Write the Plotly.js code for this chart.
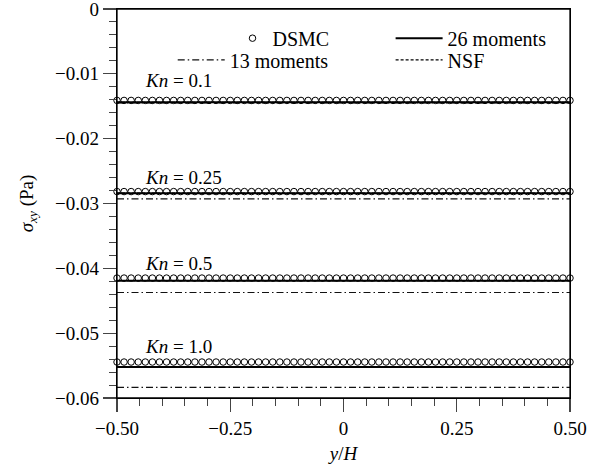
<!DOCTYPE html>
<html>
<head>
<meta charset="utf-8">
<script src="https://cdn.plot.ly/plotly-3.0.1.min.js"></script>
<style>html,body{margin:0;padding:0;background:#fff;}#chart{width:589px;height:474px;}</style>
</head>
<body>
<div id="chart"></div>
<script>
// DSMC sample positions y/H
var dsmcX = [-0.5, -0.4844, -0.4688, -0.4531, -0.4375, -0.4219, -0.4063, -0.3906, -0.375, -0.3594,
  -0.3438, -0.3281, -0.3125, -0.2969, -0.2813, -0.2656, -0.25, -0.2344, -0.2188, -0.2031,
  -0.1875, -0.1719, -0.1563, -0.1406, -0.125, -0.1094, -0.0938, -0.0781, -0.0625, -0.0469,
  -0.0313, -0.0156, 0, 0.0156, 0.0313, 0.0469, 0.0625, 0.0781, 0.0938, 0.1094,
  0.125, 0.1406, 0.1563, 0.1719, 0.1875, 0.2031, 0.2188, 0.2344, 0.25, 0.2656,
  0.2813, 0.2969, 0.3125, 0.3281, 0.3438, 0.3594, 0.375, 0.3906, 0.4063, 0.4219,
  0.4375, 0.4531, 0.4688, 0.4844, 0.5];
var lineX = [-0.5, 0.5];
var knLabels = ['0.1', '0.25', '0.5', '1.0'];
var dsmcLevel = [-0.0141, -0.02816, -0.0415, -0.05445];
var mom26Level = [-0.0144, -0.0284, -0.0419, -0.05523];
var mom13Level = [-0.0145, -0.0293, -0.04373, -0.05837];
var nsfLevel = [-0.0144, -0.0284, -0.0419, -0.05523];
var labelY = [-0.0111, -0.0260, -0.0393, -0.0521];
var xTickVals = [-0.5, -0.25, 0, 0.25, 0.5];
var xTickText = ['\u22120.50', '\u22120.25', '0', '0.25', '0.50'];

var FONT = "'Liberation Serif', 'DejaVu Serif', serif";
var traces = [];
for (var i = 0; i < knLabels.length; i++) {
  var first = (i === 0);
  traces.push({x: lineX, y: [nsfLevel[i], nsfLevel[i]], mode: 'lines', name: 'NSF',
    line: {color: '#000', width: 1.2, dash: '3px,2px'}, showlegend: first, legend: 'legend4', cliponaxis: false});
  traces.push({x: lineX, y: [mom13Level[i], mom13Level[i]], mode: 'lines', name: '13 moments',
    line: {color: '#111', width: 1.2, dash: '7px,3px,1.5px,3px'}, showlegend: first, legend: 'legend3', cliponaxis: false});
  traces.push({x: lineX, y: [mom26Level[i], mom26Level[i]], mode: 'lines', name: '26 moments',
    line: {color: '#000', width: 2}, showlegend: first, legend: 'legend2', cliponaxis: false});
  traces.push({x: dsmcX, y: dsmcX.map(function(){return dsmcLevel[i];}), mode: 'markers', name: 'DSMC',
    marker: {symbol: 'circle-open', size: 6.5, color: '#000', line: {width: 1, color: '#000'}},
    showlegend: first, legend: 'legend', cliponaxis: false});
}

var annotations = knLabels.map(function(k, i) {
  return {x: -0.443, y: labelY[i], xref: 'x', yref: 'y', xanchor: 'left', yanchor: 'middle',
    text: '<i>Kn</i> = ' + k, showarrow: false, font: {family: FONT, size: 19, color: '#000'}};
});

function leg(x, y, w) {
  return {x: x, y: y, xref: 'paper', yref: 'paper', xanchor: 'left', yanchor: 'middle',
    bgcolor: 'rgba(0,0,0,0)', borderwidth: 0, itemwidth: w, font: {family: FONT, size: 20, color: '#000'}};
}

var layout = {
  width: 589, height: 474,
  margin: {l: 117, r: 19, t: 9, b: 76},
  paper_bgcolor: '#fff', plot_bgcolor: '#fff',
  font: {family: FONT, size: 19, color: '#000'},
  showlegend: true,
  legend: leg(0.255, 0.925, 30),
  legend2: leg(0.604, 0.925, 47),
  legend3: leg(0.123, 0.869, 47),
  legend4: leg(0.604, 0.869, 47),
  xaxis: {range: [-0.5, 0.5], tickvals: xTickVals, ticktext: xTickText,
    ticks: 'outside', ticklen: 13, tickwidth: 1.2, tickcolor: '#444',
    showline: true, linecolor: '#000', linewidth: 1.3, mirror: true,
    showgrid: false, zeroline: false, ticklabeloverflow: 'allow',
    minor: {dtick: 0.05, ticks: 'outside', ticklen: 7, tickwidth: 1, tickcolor: '#444', showgrid: false},
    tickfont: {family: FONT, size: 19, color: '#000'},
    title: {text: '<i>y</i>/<i>H</i>', font: {family: FONT, size: 19, color: '#000'}, standoff: 8}},
  yaxis: {range: [-0.06, 0], dtick: 0.01, tick0: 0,
    ticks: 'outside', ticklen: 13, tickwidth: 1.2, tickcolor: '#444',
    showline: true, linecolor: '#000', linewidth: 1.3, mirror: true,
    showgrid: false, zeroline: false, ticklabeloverflow: 'allow',
    minor: {dtick: 0.002, ticks: 'outside', ticklen: 7, tickwidth: 1, tickcolor: '#444', showgrid: false},
    tickfont: {family: FONT, size: 19, color: '#000'},
    title: {text: '<i>σ</i><sub><i>xy</i></sub> (Pa)', font: {family: FONT, size: 19, color: '#000'}, standoff: 16}},
  shapes: [{type: 'rect', xref: 'paper', yref: 'paper', x0: 0, x1: 1, y0: 0, y1: 1,
    line: {color: '#000', width: 1.3}, fillcolor: 'rgba(0,0,0,0)', layer: 'above'}],
  annotations: annotations
};

Plotly.newPlot('chart', traces, layout, {displayModeBar: false, staticPlot: true});
</script>
</body>
</html>
